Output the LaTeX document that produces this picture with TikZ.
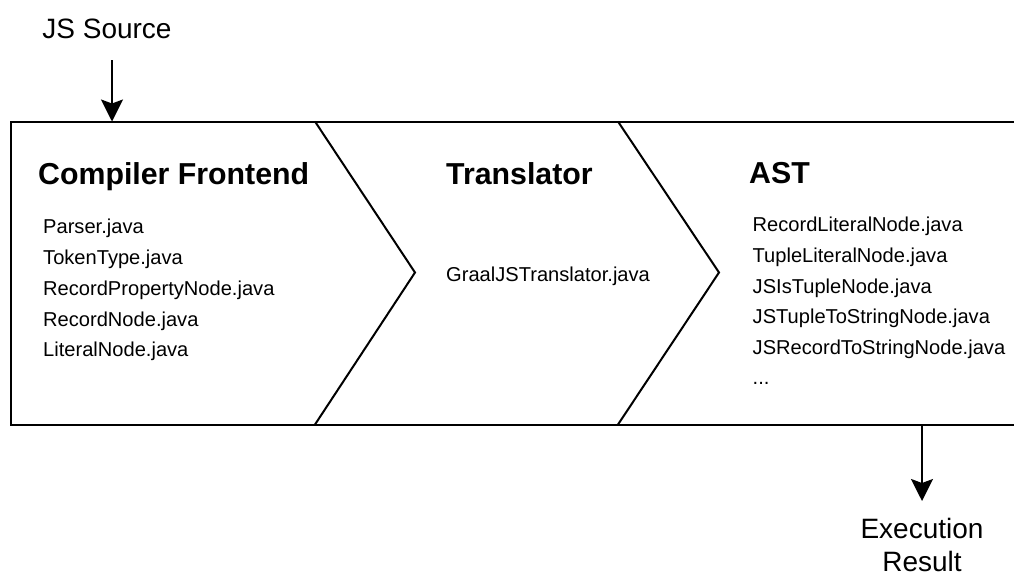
\documentclass[tikz,border=0pt]{standalone}
\usepackage{fontspec}
\setmainfont{Liberation Sans}
\usetikzlibrary{arrows.meta}
\tikzset{
  frame/.style={line width=2pt, line join=miter},
  flow/.style={line width=2pt, -{Stealth[length=22pt, width=22pt, inset=4pt]}},
  head/.style={inner sep=0pt, anchor=base west, font=\bfseries\fontsize{30.3}{35}\selectfont},
  item/.style={inner sep=0pt, anchor=base west, font=\fontsize{20.1}{24}\selectfont},
  label/.style={inner sep=0pt, anchor=base, font=\fontsize{28}{33}\selectfont, align=center}
}
\begin{document}
\begin{tikzpicture}[x=1pt,y=-1pt]
\useasboundingbox (0,0) rectangle (1014,576);
% frame
\draw[frame] (1020,121.5) -- (10.5,121.5) -- (10.5,424.5) -- (1020,424.5);
\draw[frame] (315,121.5) -- (415,272.5) -- (315,424.5);
\draw[frame] (618,121.5) -- (719,272.5) -- (618,424.5);
% headings
\node[head] (hcf) at (38,184) {Compiler Frontend};
\node[head] (htr) at (446,184) {Translator};
\node[head] (hast) at (749,183.5) {AST};
% items: compiler frontend
\node[item] (c1) at (43,233) {Parser.java};
\node[item] (c2) at (43,264) {TokenType.java};
\node[item] (c3) at (43,295) {RecordPropertyNode.java};
\node[item] (c4) at (43,326) {RecordNode.java};
\node[item] (c5) at (43,356.5) {LiteralNode.java};
% translator
\node[item] (t1) at (446,281.5) {GraalJSTranslator.java};
% AST
\node[item] (a1) at (752.5,231.5) {RecordLiteralNode.java};
\node[item] (a2) at (752.5,262.5) {TupleLiteralNode.java};
\node[item] (a3) at (752.5,293) {JSIsTupleNode.java};
\node[item] (a4) at (752.5,323.5) {JSTupleToStringNode.java};
\node[item] (a5) at (752.5,354) {JSRecordToStringNode.java};
\node[item] (a6) at (752.5,384) {...};
% labels and arrows
\node[label] (src) at (107,38.5) {JS Source};
\coordinate (srcEnd) at (112,60);
\coordinate (inPt) at (112,121.5);
\draw[flow] (srcEnd) -- (inPt);
\coordinate (outPt) at (922,424.5);
\coordinate (outEnd) at (922,501);
\draw[flow] (outPt) -- (outEnd);
\node[label, text depth=0pt] (res) at (922,571) {Execution\\Result};
\end{tikzpicture}
\end{document}
